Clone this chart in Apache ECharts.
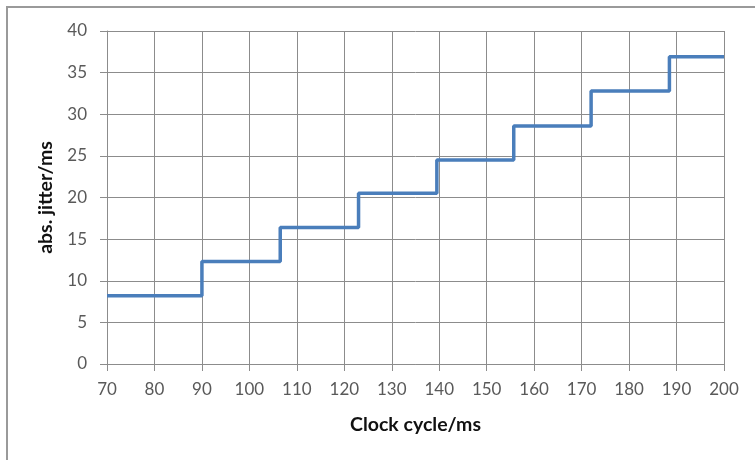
<!DOCTYPE html>
<html><head><meta charset="utf-8">
<script src="https://cdn.jsdelivr.net/npm/echarts@6/dist/echarts.min.js"></script>
<style>html,body{margin:0;padding:0;background:#fff}#c{width:755px;height:460px}</style>
</head><body><div id="c"></div>
<script>
const clockCycle = [70, 90, 106.5, 123, 139.5, 155.7, 172, 188.5, 200];
const absJitter  = [8.2, 12.3, 16.4, 20.5, 24.5, 28.6, 32.8, 36.9, 36.9];
const xTitle = 'Clock cycle/ms';
const yTitle = 'abs. jitter/ms';

const chart = echarts.init(document.getElementById('c'));
const gridColor = '#8c8c8c';
const font = 'Lato, "Open Sans", sans-serif';
const labelStyle = {color: '#595959', fontSize: 17, fontFamily: font};
const titleStyle = {color: '#111', fontSize: 19.5, fontWeight: 'bold', fontFamily: font};
chart.setOption({
  animation: false,
  backgroundColor: '#fff',
  graphic: [{
    type: 'rect', shape: {x: 7, y: 7, width: 760, height: 470},
    style: {fill: 'none', stroke: '#9a9a9a', lineWidth: 2}, silent: true
  }],
  grid: {left: 107, right: 31, top: 31, bottom: 96},
  xAxis: {
    type: 'value', min: 70, max: 200, interval: 10,
    name: xTitle, nameLocation: 'middle', nameGap: 51,
    nameTextStyle: titleStyle,
    axisLine: {show: true, lineStyle: {color: gridColor}},
    axisTick: {show: true, length: 7, lineStyle: {color: gridColor}},
    axisLabel: Object.assign({margin: 17}, labelStyle),
    splitLine: {show: true, lineStyle: {color: gridColor, width: 1}}
  },
  yAxis: {
    type: 'value', min: 0, max: 40, interval: 5,
    name: yTitle, nameLocation: 'middle', nameGap: 51, nameRotate: 90,
    nameTextStyle: titleStyle,
    axisLine: {show: true, lineStyle: {color: gridColor}},
    axisTick: {show: true, length: 7, lineStyle: {color: gridColor}},
    axisLabel: Object.assign({margin: 20}, labelStyle),
    splitLine: {show: true, lineStyle: {color: gridColor, width: 1}}
  },
  series: [{
    type: 'line', step: 'end', showSymbol: false,
    data: clockCycle.map((x, i) => [x, absJitter[i]]),
    lineStyle: {color: '#4a7ebb', width: 3.5},
    itemStyle: {color: '#4a7ebb'}
  }]
});
</script></body></html>
